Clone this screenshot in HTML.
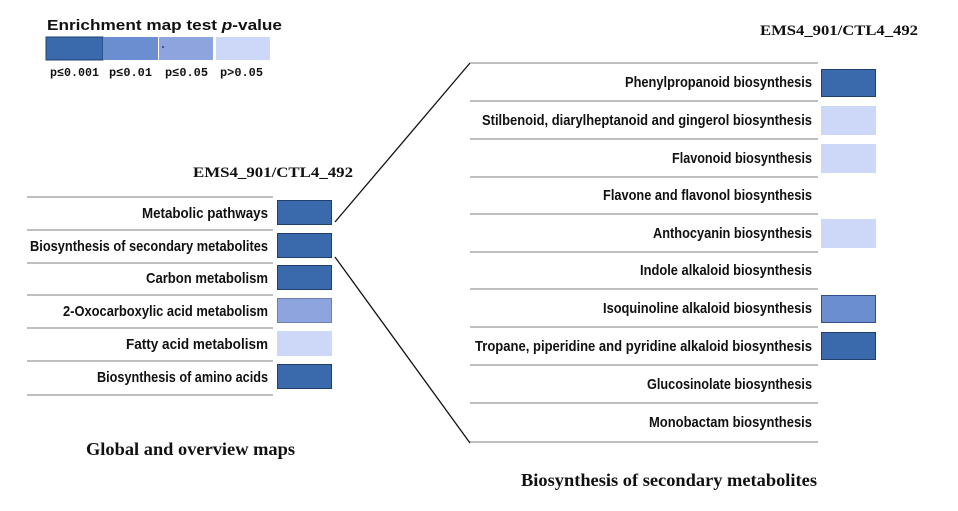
<!DOCTYPE html>
<html><head><meta charset="utf-8"><style>
html,body{margin:0;padding:0;background:#fff;}
svg{display:block;}
.l{font-family:"Liberation Sans Narrow","Liberation Sans",sans-serif;font-weight:bold;font-size:15px;fill:#111;}
.s{font-family:"Liberation Serif",serif;font-weight:bold;fill:#111;}
.m{font-family:"Liberation Mono",monospace;font-weight:bold;font-size:12px;fill:#111;}
</style></head><body>
<svg width="958" height="511" viewBox="0 0 958 511" xmlns="http://www.w3.org/2000/svg">
<rect width="958" height="511" fill="#fff"/>
<!-- legend -->
<text x="47" y="30" class="l" font-size="18" textLength="235" lengthAdjust="spacingAndGlyphs">Enrichment map test <tspan font-style="italic">p</tspan>-value</text>
<rect x="46" y="37" width="57" height="23" fill="#3a6aab" stroke="#1f3f6e" stroke-width="1"/>
<rect x="103" y="37" width="55" height="23" fill="#6a8ed0"/>
<rect x="159" y="37" width="54" height="23" fill="#8ea4de"/>
<circle cx="163" cy="47" r="1" fill="#1f3f6e"/>
<rect x="216" y="37" width="54" height="23" fill="#cdd7f7"/>
<text x="50" y="76" class="m" textLength="49" lengthAdjust="spacingAndGlyphs">p≤0.001</text>
<text x="109" y="76" class="m" textLength="43" lengthAdjust="spacingAndGlyphs">p≤0.01</text>
<text x="165" y="76" class="m" textLength="43" lengthAdjust="spacingAndGlyphs">p≤0.05</text>
<text x="220" y="76" class="m" textLength="43" lengthAdjust="spacingAndGlyphs">p&gt;0.05</text>

<!-- left panel -->
<text x="193" y="177" class="s" font-size="15" textLength="160" lengthAdjust="spacingAndGlyphs">EMS4_901/CTL4_492</text>
<g stroke="#aaa" stroke-width="1.5">
<line x1="27" y1="197" x2="273" y2="197"/><line x1="27" y1="230" x2="273" y2="230"/>
<line x1="27" y1="263" x2="273" y2="263"/><line x1="27" y1="295" x2="273" y2="295"/>
<line x1="27" y1="328" x2="273" y2="328"/><line x1="27" y1="361" x2="273" y2="361"/>
<line x1="27" y1="395" x2="273" y2="395"/>
</g>
<g text-anchor="end">
<text x="268" y="218" class="l" textLength="126" lengthAdjust="spacingAndGlyphs">Metabolic pathways</text>
<text x="268" y="251" class="l" textLength="238" lengthAdjust="spacingAndGlyphs">Biosynthesis of secondary metabolites</text>
<text x="268" y="283" class="l" textLength="122" lengthAdjust="spacingAndGlyphs">Carbon metabolism</text>
<text x="268" y="316" class="l" textLength="205" lengthAdjust="spacingAndGlyphs">2-Oxocarboxylic acid metabolism</text>
<text x="268" y="349" class="l" textLength="142" lengthAdjust="spacingAndGlyphs">Fatty acid metabolism</text>
<text x="268" y="382" class="l" textLength="171" lengthAdjust="spacingAndGlyphs">Biosynthesis of amino acids</text>
</g>
<rect x="277.5" y="200.5" width="54" height="24" fill="#3a6aab" stroke="#1f3f6e"/>
<rect x="277.5" y="233.5" width="54" height="24" fill="#3a6aab" stroke="#1f3f6e"/>
<rect x="277.5" y="265.5" width="54" height="24" fill="#3a6aab" stroke="#1f3f6e"/>
<rect x="277.5" y="298.5" width="54" height="24" fill="#8ea4de" stroke="#7080b0"/>
<rect x="277" y="331" width="55" height="25" fill="#cdd7f7"/>
<rect x="277.5" y="364.5" width="54" height="24" fill="#3a6aab" stroke="#1f3f6e"/>
<text x="86" y="455" class="s" font-size="18" textLength="209" lengthAdjust="spacingAndGlyphs">Global and overview maps</text>

<!-- connectors -->
<line x1="335" y1="222" x2="470" y2="63" stroke="#111" stroke-width="1.3"/>
<line x1="335" y1="257" x2="470" y2="443" stroke="#111" stroke-width="1.3"/>

<!-- right panel -->
<text x="760" y="35" class="s" font-size="15" textLength="158" lengthAdjust="spacingAndGlyphs">EMS4_901/CTL4_492</text>
<g stroke="#aaa" stroke-width="1.5">
<line x1="470" y1="63" x2="818" y2="63"/><line x1="470" y1="101" x2="818" y2="101"/>
<line x1="470" y1="139" x2="818" y2="139"/><line x1="470" y1="177" x2="818" y2="177"/>
<line x1="470" y1="214" x2="818" y2="214"/><line x1="470" y1="252" x2="818" y2="252"/>
<line x1="470" y1="289" x2="818" y2="289"/><line x1="470" y1="327" x2="818" y2="327"/>
<line x1="470" y1="365" x2="818" y2="365"/><line x1="470" y1="403" x2="818" y2="403"/>
<line x1="470" y1="442" x2="818" y2="442"/>
</g>
<g text-anchor="end">
<text x="812" y="87" class="l" textLength="187" lengthAdjust="spacingAndGlyphs">Phenylpropanoid biosynthesis</text>
<text x="812" y="125" class="l" textLength="330" lengthAdjust="spacingAndGlyphs">Stilbenoid, diarylheptanoid and gingerol biosynthesis</text>
<text x="812" y="163" class="l" textLength="140" lengthAdjust="spacingAndGlyphs">Flavonoid biosynthesis</text>
<text x="812" y="200" class="l" textLength="209" lengthAdjust="spacingAndGlyphs">Flavone and flavonol biosynthesis</text>
<text x="812" y="238" class="l" textLength="159" lengthAdjust="spacingAndGlyphs">Anthocyanin biosynthesis</text>
<text x="812" y="275" class="l" textLength="172" lengthAdjust="spacingAndGlyphs">Indole alkaloid biosynthesis</text>
<text x="812" y="313" class="l" textLength="209" lengthAdjust="spacingAndGlyphs">Isoquinoline alkaloid biosynthesis</text>
<text x="812" y="351" class="l" textLength="337" lengthAdjust="spacingAndGlyphs">Tropane, piperidine and pyridine alkaloid biosynthesis</text>
<text x="812" y="389" class="l" textLength="165" lengthAdjust="spacingAndGlyphs">Glucosinolate biosynthesis</text>
<text x="812" y="427" class="l" textLength="163" lengthAdjust="spacingAndGlyphs">Monobactam biosynthesis</text>
</g>
<rect x="821.5" y="69.5" width="54" height="27" fill="#3a6aab" stroke="#1f3f6e"/>
<rect x="821" y="106" width="55" height="29" fill="#cdd7f7"/>
<rect x="821" y="144" width="55" height="29" fill="#cdd7f7"/>
<rect x="821" y="219" width="55" height="29" fill="#cdd7f7"/>
<rect x="821.5" y="295.5" width="54" height="27" fill="#6a8ed0" stroke="#2f4f8e"/>
<rect x="821.5" y="332.5" width="54" height="27" fill="#3a6aab" stroke="#1f3f6e"/>
<text x="521" y="486" class="s" font-size="18" textLength="296" lengthAdjust="spacingAndGlyphs">Biosynthesis of secondary metabolites</text>
</svg>
</body></html>
